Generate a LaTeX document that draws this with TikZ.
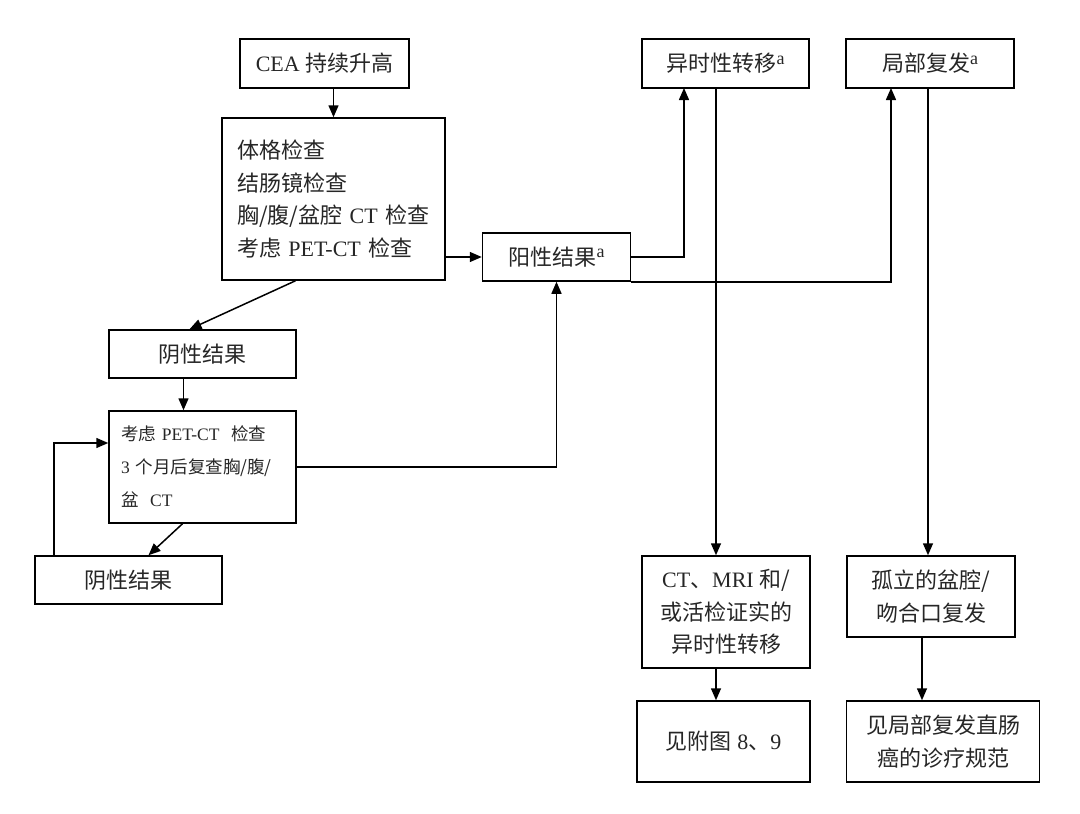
\documentclass[tikz,border=0pt]{standalone}
\usepackage{fontspec}
\setmainfont{Liberation Serif}
\newfontfamily\cjk{Noto Sans CJK SC}
\newcommand{\zh}[1]{{\cjk #1}}
\newcommand{\supa}{\raisebox{0.35em}{\fontsize{18}{18}\selectfont a}}
\usetikzlibrary{arrows.meta,positioning}
\begin{document}
\begin{tikzpicture}[x=1pt,y=-1pt]
            \tikzset{Box/.style={%
                    shape=rectangle,%
                    draw=black,%
                    line width=1.5pt,%
                    text=black!85,%
                    font=\fontsize{22}{32.5}\selectfont,%
                    align=center,%
                    inner sep=0pt,%
                },
                Arrow/.style={%
                    line width=1.5pt,%
                    -{Triangle[length=12pt,width=10pt]},%
                }}
                \useasboundingbox (0,0) rectangle (1080,814);

                \node[Box, minimum width=169pt, minimum height=49pt] (cea) at (324.5,63.5) {CEA \zh{持续升高}};
                \node[Box, minimum width=223pt, minimum height=162pt, text width=193pt, align=left] (exam) at (333.5,199)
                    {\zh{体格检查}\\\zh{结肠镜检查}\\\zh{胸/腹/盆腔} CT \zh{检查}\\\zh{考虑} PET-CT \zh{检查}\\[-10pt]};
                \node[Box, minimum width=148pt, minimum height=48pt] (pos) at (556.5,257) {\zh{阳性结果}\supa};
                \node[Box, minimum width=167pt, minimum height=49pt] (meta) at (725.5,63.5) {\zh{异时性转移}\supa};
                \node[Box, minimum width=168pt, minimum height=49pt] (local) at (930,63.5) {\zh{局部复发}\supa};
                \node[Box, minimum width=187pt, minimum height=48pt] (neg1) at (202.5,354) {\zh{阴性结果}};
                \node[Box, minimum width=187pt, minimum height=112pt, text width=163pt, align=left,
                    font=\fontsize{17.5}{33}\selectfont] (cons) at (202.5,467)
                    {\zh{考虑} PET-CT\ \ \zh{检查}\\3 \zh{个月后复查胸/腹/}\\\zh{盆}\ \ CT};
                \node[Box, minimum width=187pt, minimum height=48pt] (neg2) at (128.5,580) {\zh{阴性结果}};
                \node[Box, minimum width=168pt, minimum height=112pt] (ctmri) at (726,612)
                    {CT\zh{、}MRI \zh{和/}\\\zh{或活检证实的}\\\zh{异时性转移}};
                \node[Box, minimum width=173pt, minimum height=81pt] (fig) at (723.5,741.5) {\zh{见附图} 8\zh{、}9};
                \node[Box, minimum width=168pt, minimum height=81pt] (iso) at (931,596.5) {\zh{孤立的盆腔/}\\\zh{吻合口复发}};
                \node[Box, minimum width=193pt, minimum height=81pt] (rule) at (943,741.5) {\zh{见局部复发直肠}\\\zh{癌的诊疗规范}};

                \coordinate (metain) at (684,88);
                \coordinate (metaout) at (716,88);
                \coordinate (localin) at (891,88);
                \coordinate (localout) at (928,88);

                \draw[Arrow] (exam.north |- cea.south) -- (exam.north);
                \draw[Arrow] (exam.east |- pos.west) -- (pos.west);
                \draw[Arrow] (pos.east) -| (metain);
                \draw[Arrow] (pos.south east) -| (localin);
                \draw[Arrow] (metaout) -- (metaout |- ctmri.north);
                \draw[Arrow] (localout) -- (localout |- iso.north);
                \draw[Arrow] (ctmri.south -| metaout) -- (fig.north -| metaout);
                \draw[Arrow] ([xshift=-9pt]iso.south) -- ([xshift=-9pt]iso.south |- rule.north);
                \draw[Arrow] ([xshift=-38pt]exam.south) -- ([xshift=-13pt]neg1.north);
                \draw[Arrow] ([xshift=-19pt]neg1.south) -- ([xshift=-19pt]cons.north);
                \draw[Arrow] ([xshift=-20pt]cons.south) -- ([xshift=20pt]neg2.north);
                \draw[Arrow] ([xshift=-74.5pt]neg2.north) |- ([yshift=24pt]cons.west);
                \draw[Arrow] (cons.east) -| (pos.south);
        \end{tikzpicture}
\end{document}
